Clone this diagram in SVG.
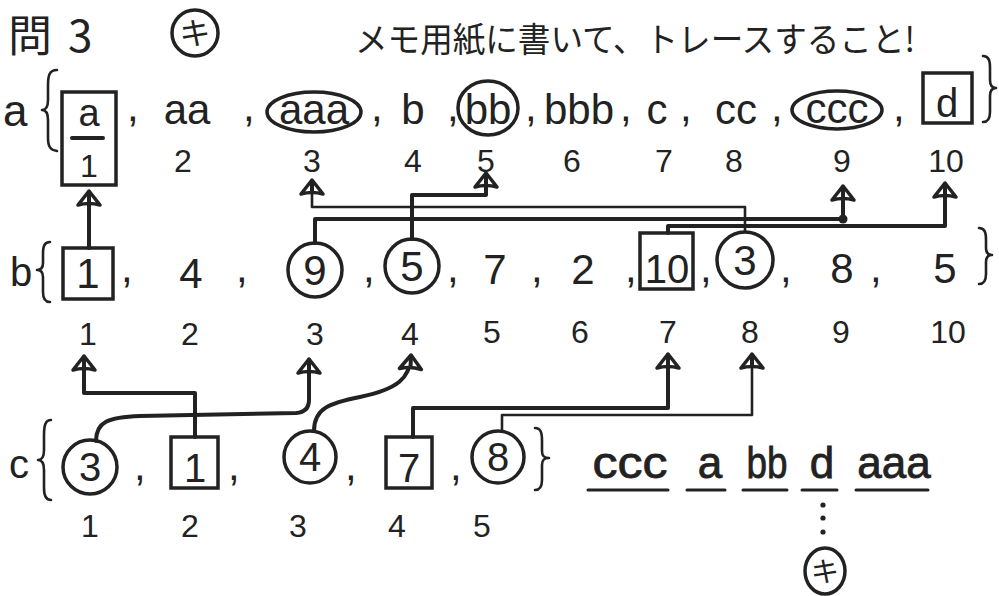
<svg xmlns="http://www.w3.org/2000/svg" width="999" height="596" viewBox="0 0 999 596">
<style>
.ln{fill:none;stroke:#222;stroke-width:4;stroke-linejoin:round;stroke-linecap:round}
.th{stroke-width:2.6}
.sh{fill:none;stroke:#222;stroke-width:3.5}
.br{fill:none;stroke:#222;stroke-width:2.6;stroke-linecap:round;stroke-linejoin:round}
.t{font-family:"Liberation Sans","DejaVu Sans",sans-serif;fill:#222}
.m{text-anchor:middle}
.big{font-size:42px}
.idx{font-size:32px}
.jp{font-family:"Noto Sans CJK JP","Noto Sans CJK SC",sans-serif;fill:#222}
.res{font-size:44px;stroke:#222;stroke-width:0.8}
</style>
<defs>
<marker id="arr" markerUnits="userSpaceOnUse" markerWidth="32" markerHeight="32" viewBox="-16 -16 32 32" refX="0" refY="0" orient="auto" overflow="visible">
<path d="M1,0 L-13,-11 Q-10,0 -13,11 Z" fill="#fff" stroke="#222" stroke-width="3.5" stroke-linejoin="round"/>
<path d="M-13,0 L0,0" stroke="#222" stroke-width="4"/>
</marker>
</defs>
<rect width="999" height="596" fill="#fff"/>

<g id="title">
<text class="jp" x="8" y="52" font-size="44">問<tspan dx="16">3</tspan></text>
<circle cx="195" cy="33" r="23" class="sh"/>
<text class="jp m" x="195" y="44" font-size="31">キ</text>
<text class="jp" x="355" y="52" font-size="34" textLength="560" lengthAdjust="spacingAndGlyphs">メモ用紙に書いて、トレースすること!</text>
</g>

<g id="row-a">
<text class="t" x="3" y="126" font-size="44">a</text>
<path class="br" d="M57,70 C49,70 48,76 48,86 L48,100 C48,107 46,110 42,110 C46,110 48,113 48,120 L48,138 C48,146 50,150 57,151"/>
<path class="br" d="M983,56 C989,56 990,61 990,68 L990,80 C990,86 992,88 996,88 C992,88 990,90 990,96 L990,112 C990,119 988,122 983,122"/>
<g class="t big">
<text x="127" y="121">,</text><text x="243" y="121">,</text><text x="371" y="121">,</text><text x="447" y="121">,</text><text x="525" y="121">,</text><text x="620" y="121">,</text><text x="680" y="121">,</text><text x="771" y="121">,</text><text x="893" y="121">,</text>
</g>
</g>
<g id="a1"><rect class="sh" x="62" y="92" width="54" height="93"/><text class="t m" x="89" y="126" font-size="38">a</text><path class="ln" d="M72,138 H103"/><text class="t m idx" x="89" y="177">1</text></g>
<g id="a2"><text class="t m big" x="187" y="124">aa</text><text class="t m idx" x="183" y="172">2</text></g>
<g id="a3"><ellipse class="sh" cx="314" cy="112" rx="47" ry="20"/><text class="t m big" x="314" y="124">aaa</text><text class="t m idx" x="312" y="172">3</text></g>
<g id="a4"><text class="t m big" x="413" y="124">b</text><text class="t m idx" x="413" y="172">4</text></g>
<g id="a5"><ellipse class="sh" cx="488" cy="108" rx="30" ry="27"/><text class="t m big" x="488" y="124">bb</text><text class="t m idx" x="486" y="172">5</text></g>
<g id="a6"><text class="t m big" x="579" y="124">bbb</text><text class="t m idx" x="572" y="172">6</text></g>
<g id="a7"><text class="t m big" x="657" y="124">c</text><text class="t m idx" x="664" y="172">7</text></g>
<g id="a8"><text class="t m big" x="736" y="124">cc</text><text class="t m idx" x="734" y="172">8</text></g>
<g id="a9"><ellipse class="sh" cx="837" cy="110" rx="45" ry="19"/><text class="t m big" x="837" y="123">ccc</text><text class="t m idx" x="842" y="172">9</text></g>
<g id="a10"><rect class="sh" x="923" y="73" width="49" height="50"/><text class="t m" x="947" y="117" font-size="40">d</text><text class="t m idx" x="946" y="172">10</text></g>

<g id="row-b">
<text class="t" x="10" y="286" font-size="40">b</text>
<path class="br" d="M50,242 C44,242 43,247 43,254 L43,263 C43,268 41,270 37,270 C41,270 43,272 43,277 L43,292 C43,299 45,302 50,302"/>
<path class="br" d="M979,228 C985,228 986,233 986,240 L986,248 C986,253 988,255 992,255 C988,255 986,257 986,262 L986,274 C986,281 984,284 979,284"/>
<g class="t big">
<text x="121" y="282">,</text><text x="236" y="282">,</text><text x="363" y="282">,</text><text x="447" y="282">,</text><text x="531" y="282">,</text><text x="625" y="282">,</text><text x="700" y="282">,</text><text x="780" y="282">,</text><text x="870" y="282">,</text>
</g>
</g>
<g id="b1"><rect class="sh" x="63" y="248" width="50" height="51"/><text class="t m big" x="88" y="288">1</text><text class="t m idx" x="88" y="345">1</text></g>
<g id="b2"><text class="t m big" x="191" y="288">4</text><text class="t m idx" x="190" y="345">2</text></g>
<g id="b3"><circle class="sh" cx="315" cy="270" r="27"/><text class="t m big" x="315" y="285">9</text><text class="t m idx" x="315" y="345">3</text></g>
<g id="b4"><circle class="sh" cx="412" cy="266" r="27"/><text class="t m big" x="412" y="281">5</text><text class="t m idx" x="410" y="345">4</text></g>
<g id="b5"><text class="t m big" x="495" y="284">7</text><text class="t m idx" x="492" y="343">5</text></g>
<g id="b6"><text class="t m big" x="583" y="284">2</text><text class="t m idx" x="580" y="343">6</text></g>
<g id="b7"><rect class="sh" x="640" y="233" width="53" height="56"/><text class="t m" x="667" y="283" font-size="40">10</text><text class="t m idx" x="668" y="343">7</text></g>
<g id="b8"><circle class="sh" cx="745" cy="260" r="28"/><text class="t m big" x="745" y="275">3</text><text class="t m idx" x="750" y="343">8</text></g>
<g id="b9"><text class="t m big" x="842" y="283">8</text><text class="t m idx" x="841" y="343">9</text></g>
<g id="b10"><text class="t m big" x="945" y="283">5</text><text class="t m idx" x="948" y="343">10</text></g>

<g id="row-c">
<text class="t" x="9" y="478" font-size="40">c</text>
<path class="br" d="M51,420 C45,420 44,426 44,436 L44,450 C44,457 42,460 38,460 C42,460 44,463 44,470 L44,488 C44,496 46,500 51,500"/>
<path class="br" d="M535,428 C541,428 542,433 542,441 L542,451 C542,456 544,458 549,458 C544,458 542,460 542,465 L542,480 C542,487 540,490 535,490"/>
<g class="t big">
<text x="134" y="480">,</text><text x="228" y="480">,</text><text x="345" y="480">,</text><text x="450" y="480">,</text>
</g>
</g>
<g id="c1"><circle class="sh" cx="90" cy="467" r="27"/><text class="t m" x="90" y="481" font-size="40">3</text><text class="t m idx" x="90" y="537">1</text></g>
<g id="c2"><rect class="sh" x="171" y="437" width="47" height="51"/><text class="t m" x="195" y="482" font-size="40">1</text><text class="t m idx" x="190" y="537">2</text></g>
<g id="c3"><circle class="sh" cx="310" cy="457" r="26"/><text class="t m" x="310" y="471" font-size="40">4</text><text class="t m idx" x="298" y="537">3</text></g>
<g id="c4"><rect class="sh" x="386" y="437" width="46" height="51"/><text class="t m" x="409" y="482" font-size="40">7</text><text class="t m idx" x="397" y="537">4</text></g>
<g id="c5"><circle class="sh" cx="498" cy="457" r="26"/><text class="t m" x="498" y="471" font-size="40">8</text><text class="t m idx" x="482" y="537">5</text></g>

<g id="result">
<text class="t m res" x="630" y="478" textLength="75" lengthAdjust="spacingAndGlyphs">ccc</text>
<text class="t m res" x="710" y="478">a</text>
<text class="t m res" x="767" y="478" textLength="41" lengthAdjust="spacingAndGlyphs">bb</text>
<text class="t m res" x="822" y="478">d</text>
<text class="t m res" x="894" y="478">aaa</text>
<path class="ln" style="stroke-width:3" d="M588,490 H668 M687,490 H725 M743,490 H787 M802,490 H837 M856,490 H928"/>
<circle cx="823" cy="505" r="2.6" fill="#222"/><circle cx="823" cy="518" r="2.6" fill="#222"/><circle cx="823" cy="532" r="2.6" fill="#222"/>
<ellipse class="sh" cx="825" cy="571" rx="20" ry="23"/>
<text class="jp m" x="825" y="582" font-size="28">キ</text>
</g>

<g id="connectors">
<path class="ln" d="M89,248 V192" marker-end="url(#arr)"/>
<path class="ln th" d="M745,232 V207 H312 V181" marker-end="url(#arr)"/>
<path class="ln" d="M412,239 V195 H486 V174" marker-end="url(#arr)"/>
<path class="ln" d="M315,243 V219 H843 V187" marker-end="url(#arr)"/>
<circle cx="843" cy="219" r="4.5" fill="#222"/>
<path class="ln" d="M668,233 V226 H945 V184" marker-end="url(#arr)"/>
<path class="ln" d="M195,437 V393 H84 V357" marker-end="url(#arr)"/>
<path class="ln" d="M96,441 C96,422 108,417 140,416 L296,413 Q309,412 309,400 V360" marker-end="url(#arr)"/>
<path class="ln" d="M314,431 C314,408 330,403 360,397 C398,389 410,378 411,356" marker-end="url(#arr)"/>
<path class="ln" d="M413,437 V408 H668 V355" marker-end="url(#arr)"/>
<path class="ln th" d="M502,430 V415 H752 V355" marker-end="url(#arr)"/>
</g>
</svg>
